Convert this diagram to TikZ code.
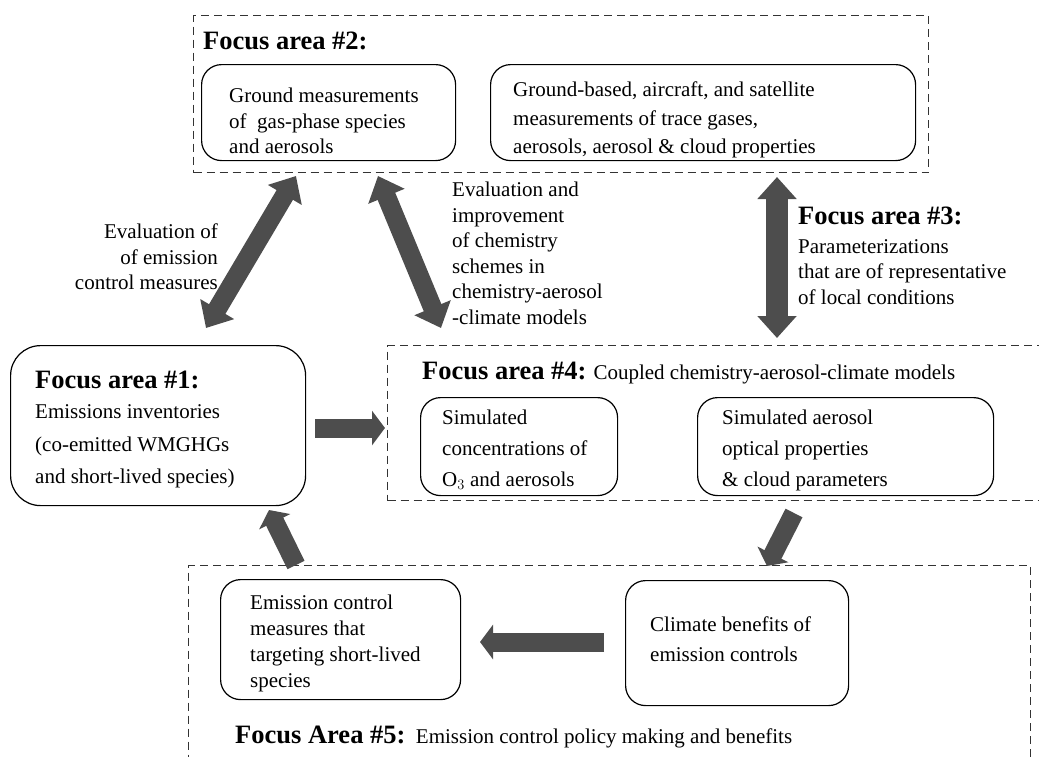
\documentclass[tikz,border=0pt]{standalone}
\usepackage{fontspec}
\setmainfont{Liberation Serif}
\usetikzlibrary{arrows.meta}
\definecolor{ink}{HTML}{000000}
\definecolor{arrowgray}{HTML}{4D4D4D}
\definecolor{dashgray}{HTML}{333333}
\newcommand{\focushd}[1]{{\fontsize{26.5}{30}\selectfont\bfseries #1}}
\newcommand{\bodyfont}[1]{\fontsize{21}{#1}\selectfont}
\tikzset{
  area/.style={rectangle,draw=dashgray,line width=1.2pt,
    dash pattern=on 8pt off 5pt,anchor=north west,inner sep=0pt},
  blk/.style={rectangle,rounded corners=20pt,draw=ink,line width=1.2pt,
    anchor=north west,inner sep=0pt},
  txt/.style={align=left,inner sep=0pt,anchor=north west},
  fatar/.style={line width=19pt,draw=arrowgray,
    -{Triangle[width=34pt,length=13pt]}},
  fatdbl/.style={line width=19pt,draw=arrowgray,
    {Triangle[width=38pt,length=22pt]}-{Triangle[width=38pt,length=22pt]}},
}

\begin{document}
\begin{tikzpicture}[x=1pt,y=-1pt,font=\bodyfont{25.5}]
  \clip (0,0) rectangle (1039,756);
  % focus area 2
  \node[area,minimum width=735pt,minimum height=157pt] (fa2) at (193,15) {};
  \node[txt] (hd2) at (203,32) {\focushd{Focus area \#2:}};
  \node[blk,minimum width=254pt,minimum height=96pt] (gm) at (201,64) {};
  \node[txt] (gmt) at (229,88)
    {Ground measurements\\of \ gas-phase species\\and aerosols};
  \node[blk,minimum width=425pt,minimum height=96pt] (gb) at (490,64) {};
  \node[txt,font=\bodyfont{28.5}] (gbt) at (513,82)
    {Ground-based, aircraft, and satellite\\measurements of trace gases,\\aerosols, aerosol \& cloud properties};
  % focus area 3 and labels
  \node[txt] (fa3) at (798,207)
    {\focushd{Focus area \#3:}\\[3pt]Parameterizations\\that are of representative\\of local conditions};
  \node[txt,align=right,anchor=north east] (lbleval) at (218,224)
    {Evaluation of\\of emission\\control measures};
  \node[txt] (lblchem) at (452,182)
    {Evaluation and\\improvement\\of chemistry\\schemes in\\chemistry-aerosol\\-climate models};
  % focus area 1
  \node[blk,rounded corners=30pt,minimum width=295pt,minimum height=160pt] (fa1) at (10,345) {};
  \node[txt,font=\bodyfont{32.5}] (fa1t) at (35,371)
    {\focushd{Focus area \#1:}\\[-2.5pt]Emissions inventories\\(co-emitted WMGHGs\\and short-lived species)};
  % focus area 4
  \node[area,minimum width=680pt,minimum height=155pt] (fa4) at (387,345) {};
  \node[txt] (hd4) at (422,362) {\focushd{Focus area \#4:} Coupled chemistry-aerosol-climate models};
  \node[blk,minimum width=197pt,minimum height=98pt] (sc) at (420,397) {};
  \node[txt,font=\bodyfont{31}] (sct) at (442,410)
    {Simulated\\concentrations of\\O$_3$ and aerosols};
  \node[blk,minimum width=296pt,minimum height=98pt] (sa) at (697,397) {};
  \node[txt,font=\bodyfont{31}] (sat) at (722,410)
    {Simulated aerosol\\optical properties\\\& cloud parameters};
  % focus area 5
  \node[area,minimum width=842pt,minimum height=220pt] (fa5) at (188,565) {};
  \node[blk,minimum width=240pt,minimum height=120pt] (ec) at (220,579) {};
  \node[txt,font=\bodyfont{26}] (ect) at (250,595)
    {Emission control\\measures that\\targeting short-lived\\species};
  \node[blk,minimum width=223pt,minimum height=125pt] (cb) at (625,580) {};
  \node[txt,font=\bodyfont{30}] (cbt) at (650,617)
    {Climate benefits of\\emission controls};
  \node[txt] (hd5) at (235,726) {\focushd{Focus Area \#5:}\ \ Emission control policy making and benefits};
  % arrow ends
  \coordinate (a1s) at (206,328); \coordinate (a1e) at (296,176);
  \coordinate (a2s) at (441,328); \coordinate (a2e) at (378,176);
  \coordinate (a3s) at (777,177); \coordinate (a3e) at (777,338);
  \coordinate (a4s) at (315,428); \coordinate (a4e) at (385,428);
  \coordinate (a5s) at (794,513); \coordinate (a5e) at (767,566);
  \coordinate (a6s) at (296,565); \coordinate (a6e) at (269,510);
  \coordinate (a7s) at (604,642); \coordinate (a7e) at (480,642);
  \draw[fatdbl] (a1s) -- (a1e);
  \draw[fatdbl] (a2s) -- (a2e);
  \draw[fatdbl,line width=22pt] (a3s) -- (a3e);
  \draw[fatar] (a4s) -- (a4e);
  \draw[fatar] (a5s) -- (a5e);
  \draw[fatar] (a6s) -- (a6e);
  \draw[fatar] (a7s) -- (a7e);
\end{tikzpicture}
\end{document}
